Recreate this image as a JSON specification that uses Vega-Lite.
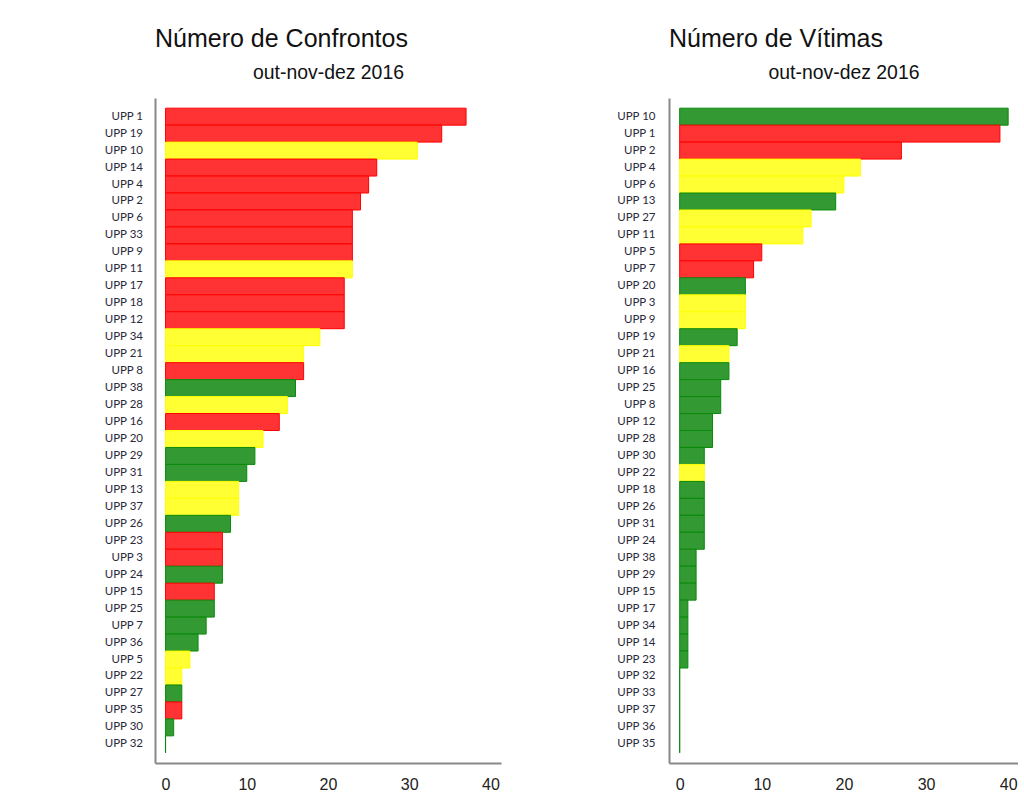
{
  "$schema": "https://vega.github.io/schema/vega-lite/v6.json",
  "background": "white",
  "padding": {"left": 103, "top": 27, "right": 0, "bottom": 0},
  "datasets": {
    "confrontos": [
      {"upp": "UPP 1", "valor": 37, "cor": "vermelho"},
      {"upp": "UPP 19", "valor": 34, "cor": "vermelho"},
      {"upp": "UPP 10", "valor": 31, "cor": "amarelo"},
      {"upp": "UPP 14", "valor": 26, "cor": "vermelho"},
      {"upp": "UPP 4", "valor": 25, "cor": "vermelho"},
      {"upp": "UPP 2", "valor": 24, "cor": "vermelho"},
      {"upp": "UPP 6", "valor": 23, "cor": "vermelho"},
      {"upp": "UPP 33", "valor": 23, "cor": "vermelho"},
      {"upp": "UPP 9", "valor": 23, "cor": "vermelho"},
      {"upp": "UPP 11", "valor": 23, "cor": "amarelo"},
      {"upp": "UPP 17", "valor": 22, "cor": "vermelho"},
      {"upp": "UPP 18", "valor": 22, "cor": "vermelho"},
      {"upp": "UPP 12", "valor": 22, "cor": "vermelho"},
      {"upp": "UPP 34", "valor": 19, "cor": "amarelo"},
      {"upp": "UPP 21", "valor": 17, "cor": "amarelo"},
      {"upp": "UPP 8", "valor": 17, "cor": "vermelho"},
      {"upp": "UPP 38", "valor": 16, "cor": "verde"},
      {"upp": "UPP 28", "valor": 15, "cor": "amarelo"},
      {"upp": "UPP 16", "valor": 14, "cor": "vermelho"},
      {"upp": "UPP 20", "valor": 12, "cor": "amarelo"},
      {"upp": "UPP 29", "valor": 11, "cor": "verde"},
      {"upp": "UPP 31", "valor": 10, "cor": "verde"},
      {"upp": "UPP 13", "valor": 9, "cor": "amarelo"},
      {"upp": "UPP 37", "valor": 9, "cor": "amarelo"},
      {"upp": "UPP 26", "valor": 8, "cor": "verde"},
      {"upp": "UPP 23", "valor": 7, "cor": "vermelho"},
      {"upp": "UPP 3", "valor": 7, "cor": "vermelho"},
      {"upp": "UPP 24", "valor": 7, "cor": "verde"},
      {"upp": "UPP 15", "valor": 6, "cor": "vermelho"},
      {"upp": "UPP 25", "valor": 6, "cor": "verde"},
      {"upp": "UPP 7", "valor": 5, "cor": "verde"},
      {"upp": "UPP 36", "valor": 4, "cor": "verde"},
      {"upp": "UPP 5", "valor": 3, "cor": "amarelo"},
      {"upp": "UPP 22", "valor": 2, "cor": "amarelo"},
      {"upp": "UPP 27", "valor": 2, "cor": "verde"},
      {"upp": "UPP 35", "valor": 2, "cor": "vermelho"},
      {"upp": "UPP 30", "valor": 1, "cor": "verde"},
      {"upp": "UPP 32", "valor": 0, "cor": "verde"}
    ],
    "vitimas": [
      {"upp": "UPP 10", "valor": 40, "cor": "verde"},
      {"upp": "UPP 1", "valor": 39, "cor": "vermelho"},
      {"upp": "UPP 2", "valor": 27, "cor": "vermelho"},
      {"upp": "UPP 4", "valor": 22, "cor": "amarelo"},
      {"upp": "UPP 6", "valor": 20, "cor": "amarelo"},
      {"upp": "UPP 13", "valor": 19, "cor": "verde"},
      {"upp": "UPP 27", "valor": 16, "cor": "amarelo"},
      {"upp": "UPP 11", "valor": 15, "cor": "amarelo"},
      {"upp": "UPP 5", "valor": 10, "cor": "vermelho"},
      {"upp": "UPP 7", "valor": 9, "cor": "vermelho"},
      {"upp": "UPP 20", "valor": 8, "cor": "verde"},
      {"upp": "UPP 3", "valor": 8, "cor": "amarelo"},
      {"upp": "UPP 9", "valor": 8, "cor": "amarelo"},
      {"upp": "UPP 19", "valor": 7, "cor": "verde"},
      {"upp": "UPP 21", "valor": 6, "cor": "amarelo"},
      {"upp": "UPP 16", "valor": 6, "cor": "verde"},
      {"upp": "UPP 25", "valor": 5, "cor": "verde"},
      {"upp": "UPP 8", "valor": 5, "cor": "verde"},
      {"upp": "UPP 12", "valor": 4, "cor": "verde"},
      {"upp": "UPP 28", "valor": 4, "cor": "verde"},
      {"upp": "UPP 30", "valor": 3, "cor": "verde"},
      {"upp": "UPP 22", "valor": 3, "cor": "amarelo"},
      {"upp": "UPP 18", "valor": 3, "cor": "verde"},
      {"upp": "UPP 26", "valor": 3, "cor": "verde"},
      {"upp": "UPP 31", "valor": 3, "cor": "verde"},
      {"upp": "UPP 24", "valor": 3, "cor": "verde"},
      {"upp": "UPP 38", "valor": 2, "cor": "verde"},
      {"upp": "UPP 29", "valor": 2, "cor": "verde"},
      {"upp": "UPP 15", "valor": 2, "cor": "verde"},
      {"upp": "UPP 17", "valor": 1, "cor": "verde"},
      {"upp": "UPP 34", "valor": 1, "cor": "verde"},
      {"upp": "UPP 14", "valor": 1, "cor": "verde"},
      {"upp": "UPP 23", "valor": 1, "cor": "verde"},
      {"upp": "UPP 32", "valor": 0, "cor": "verde"},
      {"upp": "UPP 33", "valor": 0, "cor": "verde"},
      {"upp": "UPP 37", "valor": 0, "cor": "verde"},
      {"upp": "UPP 36", "valor": 0, "cor": "verde"},
      {"upp": "UPP 35", "valor": 0, "cor": "verde"}
    ]
  },
  "hconcat": [
    {
      "width": 346,
      "height": 665,
      "title": {"text": "Número de Confrontos", "anchor": "start", "frame": "group", "fontSize": 25, "font": "Liberation Sans", "fontWeight": "normal", "color": "#111", "offset": 10},
      "data": {"name": "confrontos"},
      "resolve": {"axis": {"x": "independent"}},
      "layer": [
        {
          "mark": {"type": "bar", "strokeWidth": 1},
          "encoding": {
            "y": {"field": "upp", "type": "nominal", "sort": null,
                  "scale": {"paddingInner": 0, "paddingOuter": 0.6},
                  "axis": {"title": null, "ticks": false, "labelPadding": 12.5, "labelFont": "Lato", "labelFontSize": 11.5, "labelColor": "#2a2a3a", "domainColor": "#888", "domainWidth": 2, "grid": false}},
            "x": {"field": "valor", "type": "quantitative",
                  "scale": {"domain": [-1.3, 41.3], "nice": false, "zero": false},
                  "axis": {"title": null, "values": [0, 10, 20, 30, 40], "ticks": false, "grid": false, "labelPadding": 13, "labelFont": "Liberation Sans", "labelFontSize": 16, "labelColor": "#222", "domainColor": "#888", "domainWidth": 2, "labelFlush": false}},
            "fill": {"field": "cor", "type": "nominal", "legend": null,
                     "scale": {"domain": ["vermelho", "amarelo", "verde"], "range": ["#ff3333", "#ffff33", "#339933"]}},
            "stroke": {"field": "cor", "type": "nominal", "legend": null,
                       "scale": {"domain": ["vermelho", "amarelo", "verde"], "range": ["#ff0000", "#ffff00", "#0a8a0a"]}}
          }
        },
        {
          "mark": {"type": "rule", "opacity": 0},
          "encoding": {
            "x": {"datum": 0, "type": "quantitative",
                  "axis": {"orient": "top", "title": "out-nov-dez 2016", "labels": false, "ticks": false, "domain": false, "grid": false, "titleFont": "Liberation Sans", "titleFontSize": 19.4, "titleFontWeight": "normal", "titleColor": "#111", "titlePadding": 16}}
          }
        }
      ]
    },
    {
      "width": 349,
      "height": 665,
      "title": {"text": "Número de Vítimas", "anchor": "start", "frame": "group", "fontSize": 25, "font": "Liberation Sans", "fontWeight": "normal", "color": "#111", "offset": 10},
      "data": {"name": "vitimas"},
      "resolve": {"axis": {"x": "independent"}},
      "layer": [
        {
          "mark": {"type": "bar", "strokeWidth": 1},
          "encoding": {
            "y": {"field": "upp", "type": "nominal", "sort": null,
                  "scale": {"paddingInner": 0, "paddingOuter": 0.6},
                  "axis": {"title": null, "ticks": false, "labelPadding": 14, "labelFont": "Lato", "labelFontSize": 11.5, "labelColor": "#2a2a3a", "domainColor": "#888", "domainWidth": 2, "grid": false}},
            "x": {"field": "valor", "type": "quantitative",
                  "scale": {"domain": [-1.3, 41.2], "nice": false, "zero": false},
                  "axis": {"title": null, "values": [0, 10, 20, 30, 40], "ticks": false, "grid": false, "labelPadding": 13, "labelFont": "Liberation Sans", "labelFontSize": 16, "labelColor": "#222", "domainColor": "#888", "domainWidth": 2, "labelFlush": false}},
            "fill": {"field": "cor", "type": "nominal", "legend": null,
                     "scale": {"domain": ["vermelho", "amarelo", "verde"], "range": ["#ff3333", "#ffff33", "#339933"]}},
            "stroke": {"field": "cor", "type": "nominal", "legend": null,
                       "scale": {"domain": ["vermelho", "amarelo", "verde"], "range": ["#ff0000", "#ffff00", "#0a8a0a"]}}
          }
        },
        {
          "mark": {"type": "rule", "opacity": 0},
          "encoding": {
            "x": {"datum": 0, "type": "quantitative",
                  "axis": {"orient": "top", "title": "out-nov-dez 2016", "labels": false, "ticks": false, "domain": false, "grid": false, "titleFont": "Liberation Sans", "titleFontSize": 19.4, "titleFontWeight": "normal", "titleColor": "#111", "titlePadding": 16}}
          }
        }
      ]
    }
  ],
  "spacing": 115,
  "config": {
    "view": {"stroke": null},
    "concat": {"spacing": 115}
  }
}
